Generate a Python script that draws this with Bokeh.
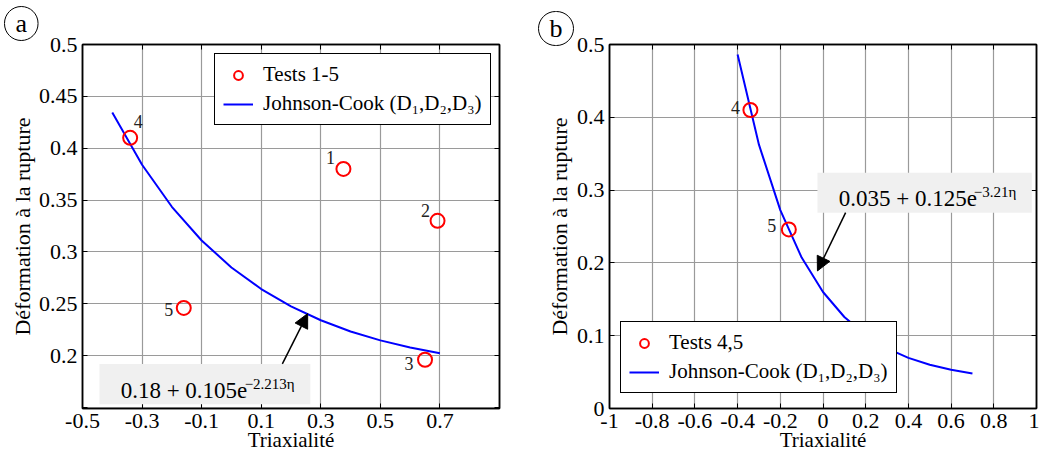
from bokeh.plotting import figure
from bokeh.layouts import row
from bokeh.models import (ColumnDataSource, Range1d, FixedTicker, LinearAxis, Legend,
                          LegendItem, Label, Arrow, NormalHead, BoxAnnotation,
                          CustomJSTickFormatter, Title)
from bokeh.embed import file_html
from bokeh.resources import INLINE
from bokeh.core.properties import value

# ---------------- data : panel (a) ----------------
a_test_ids = ["1", "2", "3", "4", "5"]
a_test_eta = [0.376, 0.692, 0.650, -0.340, -0.160]
a_test_eps = [0.380, 0.330, 0.196, 0.410, 0.246]
a_jc_eta = [-0.4, -0.3, -0.2, -0.1, 0.0, 0.1, 0.2, 0.3, 0.4, 0.5, 0.6, 0.7]
a_jc_eps = [0.4345, 0.3840, 0.3435, 0.3110, 0.2850, 0.2642, 0.2475, 0.2341,
            0.2233, 0.2147, 0.2078, 0.2023]
a_xticks = [-0.5, -0.3, -0.1, 0.1, 0.3, 0.5, 0.7]
a_xlabels = ["-0.5", "-0.3", "-0.1", "0.1", "0.3", "0.5", "0.7"]
a_yticks = [0.15, 0.2, 0.25, 0.3, 0.35, 0.4, 0.45, 0.5]
a_ylabels = ["", "0.2", "0.25", "0.3", "0.35", "0.4", "0.45", "0.5"]
a_formula = "0.18 + 0.105e"
a_formula_exp = "\u22122.213\u03b7"

# ---------------- data : panel (b) ----------------
b_test_ids = ["4", "5"]
b_test_eta = [-0.340, -0.160]
b_test_eps = [0.410, 0.246]
b_jc_eta = [-0.4, -0.3, -0.2, -0.1, 0.0, 0.1, 0.2, 0.3, 0.4, 0.5, 0.6, 0.7]
b_jc_eps = [0.4864, 0.3624, 0.2725, 0.2073, 0.1600, 0.1257, 0.1008, 0.0827,
            0.0696, 0.0601, 0.0532, 0.0482]
b_xticks = [-1.0, -0.8, -0.6, -0.4, -0.2, 0.0, 0.2, 0.4, 0.6, 0.8, 1.0]
b_xlabels = ["-1", "-0.8", "-0.6", "-0.4", "-0.2", "0", "0.2", "0.4", "0.6", "0.8", "1"]
b_yticks = [0.0, 0.1, 0.2, 0.3, 0.4, 0.5]
b_ylabels = ["0", "0.1", "0.2", "0.3", "0.4", "0.5"]
b_formula = "0.035 + 0.125e"
b_formula_exp = "\u22123.21\u03b7"

x_title = "Triaxialit\u00e9"
y_title = "D\u00e9formation \u00e0 la rupture"
leg_tests_a = "Tests 1-5"
leg_tests_b = "Tests 4,5"
leg_jc = "Johnson-Cook (D\u2081,D\u2082,D\u2083)"

# label offsets (style, pixels) for the point numbers
a_lbl_dx = [-13, -12, -16, 8, -15]
a_lbl_dy = [-11, -10, 4, -16, 2]
b_lbl_dx = [-15, -17]
b_lbl_dy = [-3, -4]

SERIF = "Liberation Serif"
RED = "#ff0000"
BLUE = "#0000ff"
GRID = "#9a9a9a"

LABEL_JS = """
for (let i = 0; i < tk.length; i++) {
  if (Math.abs(tk[i] - tick) < 1e-9) { return lb[i]; }
}
return '';
"""


def fmt(ticks, labels):
    return CustomJSTickFormatter(args=dict(tk=ticks, lb=labels), code=LABEL_JS)


def make_fig(w, h, xr, yr, bl, br, bt, bb, xt, xl, yt, yl, ytitle_standoff, xtitle_standoff):
    p = figure(width=w, height=h, x_range=Range1d(*xr), y_range=Range1d(*yr),
               output_backend="svg", toolbar_location=None,
               min_border_left=bl, min_border_right=br,
               min_border_top=bt, min_border_bottom=bb)
    p.background_fill_color = "white"
    p.border_fill_color = "white"
    p.outline_line_color = "black"
    p.outline_line_width = 1.5
    for ax, ticks, labels in ((p.xaxis[0], xt, xl), (p.yaxis[0], yt, yl)):
        ax.ticker = FixedTicker(ticks=ticks)
        ax.formatter = fmt(ticks, labels)
        ax.major_label_text_font = SERIF
        ax.major_label_text_font_size = "22px"
        ax.major_label_text_color = "black"
        ax.major_tick_in = 5
        ax.major_tick_out = 0
        ax.minor_tick_line_color = None
        ax.axis_line_color = "black"
        ax.axis_line_width = 1.5
        ax.major_tick_line_color = "black"
        ax.axis_label_text_font = SERIF
        ax.axis_label_text_font_style = "normal"
        ax.axis_label_text_color = "black"
    p.xaxis.major_label_standoff = 5
    p.yaxis.major_label_standoff = 5
    p.yaxis.axis_label = y_title
    p.yaxis.axis_label_text_font_size = "22px"
    p.yaxis.axis_label_standoff = ytitle_standoff
    p.xaxis.axis_label = x_title
    p.xaxis.axis_label_text_font_size = "21px"
    p.xaxis.axis_label_standoff = xtitle_standoff
    p.xgrid.ticker = FixedTicker(ticks=xt)
    p.ygrid.ticker = FixedTicker(ticks=yt)
    p.xgrid.grid_line_color = GRID
    p.ygrid.grid_line_color = GRID
    p.xgrid.grid_line_width = 1.2
    p.ygrid.grid_line_width = 1.2
    # mirrored tick marks on top and right (no labels)
    for loc, ticks in (("above", xt), ("right", yt)):
        ax = LinearAxis(ticker=FixedTicker(ticks=ticks),
                        formatter=CustomJSTickFormatter(code="return '';"),
                        major_tick_in=5, major_tick_out=0, minor_tick_line_color=None,
                        axis_line_width=1.5, major_label_standoff=0)
        p.add_layout(ax, loc)
    return p


def add_common(p, eta, eps, ids, dx, dy, jc_eta, jc_eps, tests_label, leg_loc,
               tag, tag_offset, tag_standoff):
    line = p.line(jc_eta, jc_eps, line_color=BLUE, line_width=2)
    src = ColumnDataSource(dict(eta=eta, eps=eps, id=ids, dx=dx, dy=dy))
    pts = p.scatter("eta", "eps", source=src, marker="circle", size=14, fill_color=None,
                    line_color=RED, line_width=2)
    p.text("eta", "eps", text="id", x_offset="dx", y_offset="dy", source=src,
           text_font=value(SERIF), text_font_size="18px", text_align="center",
           text_baseline="middle", text_color="#222222")
    leg = Legend(items=[LegendItem(label=tests_label, renderers=[pts]),
                        LegendItem(label=leg_jc, renderers=[line])],
                 location=leg_loc, orientation="vertical",
                 border_line_color="black", border_line_width=1, border_line_alpha=1,
                 background_fill_color="white", background_fill_alpha=1,
                 label_text_font=SERIF, label_text_font_size="21px",
                 label_text_color="black", padding=8, spacing=4, margin=0,
                 glyph_width=30, glyph_height=22, label_height=24, label_standoff=10)
    p.add_layout(leg)
    p.title = Title(text=tag, align="left", offset=tag_offset, standoff=tag_standoff,
                    text_font=SERIF, text_font_size="26px", text_font_style="normal",
                    text_color="black", border_line_color="black", border_line_width=1,
                    border_radius=17, padding=dict(left=11, right=11, top=2, bottom=3))


def add_formula(p, box, txt, exp, txt_xy, exp_dx):
    l, r, b, t = box
    p.add_layout(BoxAnnotation(left=l, right=r, bottom=b, top=t, fill_color="#f0f0f0",
                               fill_alpha=1, line_color=None))
    x0, y0 = txt_xy
    p.add_layout(Label(x=x0, y=y0, text=txt, text_font=SERIF, text_font_size="23px",
                       text_baseline="alphabetic", text_align="left", text_color="black"))
    p.add_layout(Label(x=x0, y=y0, x_offset=exp_dx, y_offset=7, text=exp, text_font=SERIF,
                       text_font_size="15px", text_baseline="alphabetic", text_align="left",
                       text_color="black"))


H = 464

# ---------------- panel (a) ----------------
p1 = make_fig(520, H, (-0.5, 0.9), (0.149, 0.5), 82, 21, 43, 54,
              a_xticks, a_xlabels, a_yticks, a_ylabels, 1, -3)
add_formula(p1, (-0.443, 0.265, 0.153, 0.192), a_formula, a_formula_exp, (-0.372, 0.166), 124)
p1.add_layout(Arrow(end=NormalHead(size=14, fill_color="black", line_color="black"),
                    x_start=0.171, y_start=0.192, x_end=0.256, y_end=0.2405,
                    line_color="black", line_width=1.5))
add_common(p1, a_test_eta, a_test_eps, a_test_ids, a_lbl_dx, a_lbl_dy, a_jc_eta, a_jc_eps,
           leg_tests_a, (132, 283), "a", -78, 8)

# ---------------- panel (b) ----------------
p2 = make_fig(519, H, (-1.0, 1.0), (0.0, 0.5), 89, 3, 38, 56,
              b_xticks, b_xlabels, b_yticks, b_ylabels, 2, -3)
add_formula(p2, (-0.026, 0.978, 0.269, 0.324), b_formula, b_formula_exp, (0.0735, 0.288), 135)
p2.add_layout(Arrow(end=NormalHead(size=14, fill_color="black", line_color="black"),
                    x_start=0.106, y_start=0.269, x_end=-0.026, y_end=0.189,
                    line_color="black", line_width=1.5))
add_common(p2, b_test_eta, b_test_eps, b_test_ids, b_lbl_dx, b_lbl_dy, b_jc_eta, b_jc_eps,
           leg_tests_b, (11, 15), "b", -71, -2)

layout = row(p1, p2, spacing=0)
open("out.html", "w").write(file_html(layout, INLINE))
